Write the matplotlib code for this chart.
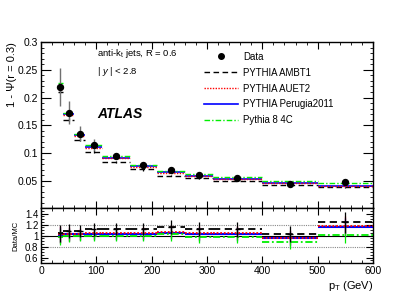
import matplotlib
matplotlib.use("Agg")
import matplotlib.pyplot as plt
from matplotlib.ticker import MultipleLocator, FixedLocator
from matplotlib.lines import Line2D
import numpy as np

plt.rcParams['font.family'] = ['Liberation Sans', 'DejaVu Sans']
plt.rcParams['mathtext.fontset'] = 'custom'
plt.rcParams['mathtext.rm'] = 'Liberation Sans'
plt.rcParams['mathtext.it'] = 'Liberation Sans:italic'

# pT bin edges (GeV)
bin_edges = [30, 40, 60, 80, 110, 160, 210, 260, 310, 400, 500, 600]

# 1 - Psi(r=0.3), data
data_vals = [0.219, 0.173, 0.135, 0.114, 0.094, 0.079, 0.069, 0.061, 0.0555, 0.0437, 0.0472]
data_errs = [0.034, 0.021, 0.014, 0.011, 0.005, 0.004, 0.004, 0.003, 0.003, 0.003, 0.003]

# MC predictions
ambt1 = [0.2106, 0.1602, 0.1239, 0.1027, 0.0839, 0.0705, 0.0595, 0.0545, 0.0500, 0.0428, 0.0381]
ambt1_errs = [0.003, 0.003, 0.003, 0.002, 0.002, 0.002, 0.001, 0.001, 0.001, 0.001, 0.001]
auet2 = [0.2147, 0.1680, 0.1311, 0.1096, 0.0904, 0.0752, 0.0645, 0.0581, 0.0529, 0.0455, 0.0403]
perugia = [0.2168, 0.1696, 0.1324, 0.1107, 0.0913, 0.0767, 0.0657, 0.0592, 0.0539, 0.0460, 0.0410]
py8_4c = [0.2258, 0.1730, 0.1350, 0.1140, 0.0940, 0.0790, 0.0676, 0.0622, 0.0566, 0.0497, 0.0465]

# relative uncertainty used in the Data/MC panel
ratio_rel_errs = [0.15, 0.12, 0.10, 0.10, 0.10, 0.10, 0.11, 0.12, 0.12, 0.14, 0.15]

edges = np.array(bin_edges, dtype=float)
lo, hi = edges[:-1], edges[1:]
centers = 0.5 * (lo + hi)
data = np.array(data_vals)

series = [
    ("PYTHIA AMBT1", ambt1, "black", (0, (4, 2.5)), 1.0),
    ("PYTHIA Perugia2011", perugia, "#0000ff", "-", 1.2),
    ("PYTHIA AUET2", auet2, "#ff0000", (0, (1, 1)), 1.0),
    ("Pythia 8 4C", py8_4c, "#00ee00", (0, (4, 1.5, 1, 1.5)), 1.0),
]

fig = plt.figure(figsize=(4.15, 2.98), dpi=100)
ax = fig.add_axes([0.0988, 0.302, 0.80, 0.557])
rax = fig.add_axes([0.0988, 0.1174, 0.80, 0.1846], sharex=ax)

# main panel
for name, vals, col, ls, lw in series:
    ax.hlines(vals, lo, hi, colors=col, linestyles=ls, linewidth=lw, zorder=2)
ax.errorbar(centers, ambt1, yerr=ambt1_errs, fmt='none', ecolor='black', elinewidth=0.9, zorder=3)
ax.errorbar(centers, data, yerr=data_errs, fmt='none', ecolor='#707070', elinewidth=1.0, zorder=4)
ax.plot(centers, data, 'o', color='black', markersize=4.3, zorder=5)

ax.set_xlim(0, 600)
ax.set_ylim(0.001, 0.3)
ax.yaxis.set_major_locator(FixedLocator([0.05, 0.1, 0.15, 0.2, 0.25, 0.3]))
ax.yaxis.set_minor_locator(MultipleLocator(0.01))
ax.set_yticklabels(['0.05', '0.1', '0.15', '0.2', '0.25', '0.3'])
ax.xaxis.set_major_locator(MultipleLocator(100))
ax.xaxis.set_minor_locator(MultipleLocator(20))
ax.tick_params(axis='x', labelbottom=False)
ax.set_ylabel('1 - Ψ(r = 0.3)', fontsize=8, loc='top', labelpad=1)

ax.text(0.169, 0.928, r'anti-k$_\mathregular{t}$ jets, R = 0.6', transform=ax.transAxes,
        fontsize=6.8, va='center')
ax.text(0.169, 0.825, r'| $y$ | < 2.8', transform=ax.transAxes, fontsize=6.8, va='center')
ax.text(0.169, 0.566, 'ATLAS', transform=ax.transAxes, fontsize=10, fontweight='bold',
        fontstyle='italic', va='center')

handles = [Line2D([], [], marker='o', color='black', linestyle='none', markersize=4.0)]
labels = ['Data']
for name in ["PYTHIA AMBT1", "PYTHIA AUET2", "PYTHIA Perugia2011", "Pythia 8 4C"]:
    s = [x for x in series if x[0] == name][0]
    handles.append(Line2D([], [], color=s[2], linestyle=s[3], linewidth=s[4]))
    labels.append(name)
ax.legend(handles, labels, loc='upper left', bbox_to_anchor=(0.478, 0.965), frameon=False,
          fontsize=6.9, handlelength=3.6, handletextpad=0.55, labelspacing=0.62, borderaxespad=0)

# ratio panel
rax.axhline(1.0, color='black', linewidth=0.8, zorder=1)
rax.axhline(1.2, color='#888888', linewidth=0.8, linestyle=(0, (1, 1)), zorder=1)
rax.axhline(0.8, color='#888888', linewidth=0.8, linestyle=(0, (1, 1)), zorder=1)
rel = np.array(ratio_rel_errs)
for name, vals, col, ls, lw in series:
    r = data / np.array(vals)
    rax.hlines(r, lo, hi, colors=col, linestyles=ls, linewidth=lw + 0.3, zorder=2)
    rax.errorbar(centers, r, yerr=r * rel, fmt='none', ecolor=col, elinewidth=0.9,
                 zorder=4 if col == 'black' else 3)
r_ambt1 = data / np.array(ambt1)
rax.hlines(r_ambt1, centers - 5, centers + 5, colors='black', linewidth=1.0, zorder=4)

rax.set_ylim(0.5, 1.5)
rax.yaxis.set_major_locator(FixedLocator([0.6, 0.8, 1.0, 1.2, 1.4]))
rax.set_yticklabels(['0.6', '0.8', '1', '1.2', '1.4'])
rax.yaxis.set_minor_locator(MultipleLocator(0.05))
rax.set_ylabel('Data/MC', fontsize=5.5, labelpad=4)
rax.set_xlabel(r'p$_\mathregular{T}$ (GeV)', fontsize=8, loc='right', labelpad=2)

for a in (ax, rax):
    a.tick_params(which='both', direction='in', top=True, right=True, labelsize=7.5, pad=2)
    a.tick_params(which='major', length=5, width=0.8)
    a.tick_params(which='minor', length=2.5, width=0.6)
    for sp in a.spines.values():
        sp.set_linewidth(1.0)
rax.tick_params(axis='y', labelsize=7)
ax.tick_params(axis='y', which='major', length=7)

fig.savefig('out.png', dpi=100)
